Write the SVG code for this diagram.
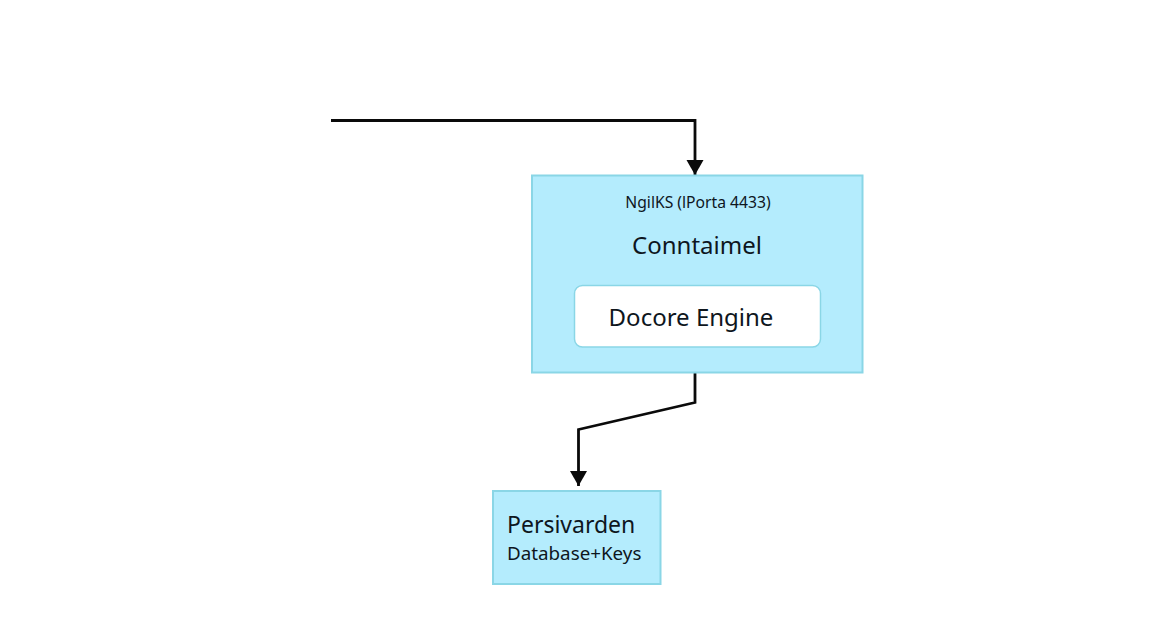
<svg xmlns="http://www.w3.org/2000/svg" width="1152" height="640" viewBox="0 0 1152 640">
<style>
text{font-family:"Noto Sans","Open Sans",sans-serif;fill:#0e161d}
.box{fill:#b4ecfd;stroke:#8ad6e6;stroke-width:2}
.inner{fill:#fff;stroke:#8ad6e6;stroke-width:1.5}
.conn{fill:none;stroke:#0a0a0a;stroke-width:2.8}
</style>
<defs><marker id="arrow" markerUnits="userSpaceOnUse" markerWidth="15" markerHeight="18" refX="15" refY="9" orient="auto"><path d="M0 0.500L15 9L0 17.500Z" fill="#0a0a0a"/></marker></defs>
<rect width="1152" height="640" fill="#fff"/>
<g id="connectors">
<path class="conn" marker-end="url(#arrow)" d="M331 120.500H695V175"/>
<path class="conn" marker-end="url(#arrow)" d="M695 373V402.500L578.500 429.500V486"/>
</g>
<g id="container">
<rect class="box" x="532" y="175.500" width="330.500" height="197"/>
<text x="698" y="208" font-size="15.700" text-anchor="middle">NgilKS (lPorta 4433)</text>
<text x="697" y="253.500" font-size="24" text-anchor="middle">Conntaimel</text>
</g>
<g id="engine">
<rect class="inner" x="574.500" y="285.500" width="246" height="61.500" rx="8"/>
<text x="691" y="326" font-size="24" text-anchor="middle">Docore Engine</text>
</g>
<g id="persistence">
<rect class="box" x="493" y="491" width="167.500" height="93"/>
<text x="507" y="533" font-size="23">Persivarden</text>
<text x="507" y="560" font-size="18.800">Database+Keys</text>
</g>
</svg>
